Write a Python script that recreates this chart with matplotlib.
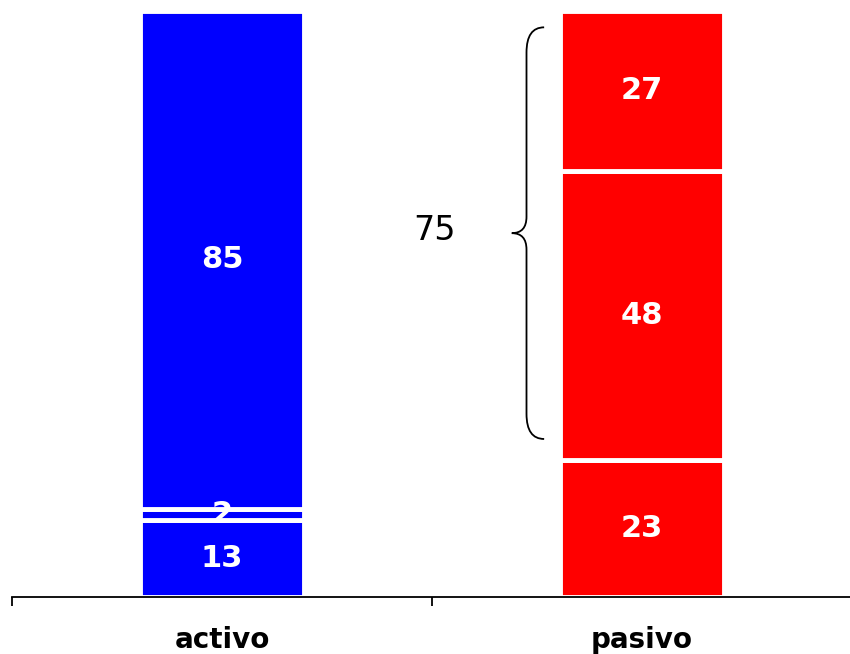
import numpy as np
import matplotlib.pyplot as plt
from matplotlib.path import Path
from matplotlib.patches import PathPatch

# datos
categorias = ['activo', 'pasivo']
activo = [13, 2, 85]
activo_etq = ['13', '2', '85']
pasivo = [23.3, 49.4, 27.3]
pasivo_etq = ['23', '48', '27']
llave_txt = '75'

fig = plt.figure(figsize=(8.5, 6.54), dpi=100)
ax = fig.add_axes([12/850, 0.0879, 840/850, 0.8954])

x = np.arange(len(categorias))
ancho = 0.39

for xi, vals, etqs, col in [(x[0], activo, activo_etq, '#0000ff'),
                            (x[1], pasivo, pasivo_etq, '#ff0000')]:
    base = 0
    for v, t in zip(vals, etqs):
        ax.bar(xi, v, ancho, bottom=base, color=col, edgecolor='white',
               linewidth=3.5, clip_on=False)
        ax.text(xi, base + v/2, t, ha='center', va='center', color='white',
                fontsize=22, fontweight='bold')
        base += v

# llave sobre los dos segmentos superiores de pasivo
y_bot = pasivo[0] + 3.6
y_top = sum(pasivo) - 2.8
y_tip = (y_bot + y_top) / 2
x_end, x_mid, x_tip = 0.767, 0.725, 0.690
r1, r2 = 4.3, 2.8
verts = [(x_end, y_top), (x_mid, y_top), (x_mid, y_top - r1),
         (x_mid, y_tip + r2), (x_mid, y_tip), (x_tip, y_tip),
         (x_mid, y_tip), (x_mid, y_tip - r2),
         (x_mid, y_bot + r1), (x_mid, y_bot), (x_end, y_bot)]
codes = [Path.MOVETO, Path.CURVE3, Path.CURVE3,
         Path.LINETO, Path.CURVE3, Path.CURVE3,
         Path.CURVE3, Path.CURVE3,
         Path.LINETO, Path.CURVE3, Path.CURVE3]
ax.add_patch(PathPatch(Path(verts, codes), fill=False, lw=1.3, color='black'))
ax.text(0.505, y_tip + 0.4, llave_txt, ha='center', va='center', fontsize=24)

ax.set_xlim(-0.5, 1.5)
ax.set_ylim(0, 100)
for s in ['top', 'right', 'left']:
    ax.spines[s].set_visible(False)
ax.spines['bottom'].set_linewidth(1.3)
ax.set_yticks([])
ax.set_xticks(x)
ax.set_xticklabels(categorias, fontsize=20, fontweight='bold')
ax.tick_params(axis='x', which='major', length=0, pad=21)
ax.set_xticks([-0.5, 0.5, 1.5], minor=True)
ax.tick_params(axis='x', which='minor', length=6.5, width=1.3, direction='out')

plt.savefig('out.png')
